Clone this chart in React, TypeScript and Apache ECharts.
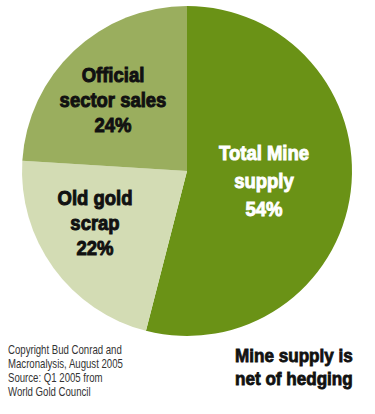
import React, { useEffect, useRef } from "react";
import * as echarts from "echarts";

const categories = ["Total Mine\nsupply", "Old gold\nscrap", "Official\nsector sales"];
const values = [54, 22, 24];
const colors = ["#6a9216", "#d3dcb4", "#9aae5e"];
const notes = ["Copyright Bud Conrad and", "Macronalysis, August 2005", "Source: Q1 2005 from", "World Gold Council"];
const caption = ["Mine supply is", "net of hedging"];

const FONT = '"Liberation Sans", Arial, sans-serif';

export default function App() {
  const ref = useRef<HTMLDivElement>(null);
  useEffect(() => {
    if (!ref.current) return;
    const chart = echarts.init(ref.current, null, { renderer: "svg" });
    const labelPos = [
      { x: 264, y: 181, fill: "#ffffff", lh: 28 },
      { x: 95, y: 223, fill: "#111111", lh: 25 },
      { x: 113, y: 100, fill: "#111111", lh: 25 },
    ];
    chart.setOption({
      animation: false,
      backgroundColor: "#ffffff",
      series: [
        {
          type: "pie",
          center: [187, 171],
          radius: 165,
          startAngle: 90,
          clockwise: true,
          label: { show: false },
          labelLine: { show: false },
          emphasis: { disabled: true },
          itemStyle: { borderWidth: 0 },
          data: categories.map((c, i) => ({ name: c, value: values[i], itemStyle: { color: colors[i] } })),
        },
      ],
      graphic: [
        ...categories.map((c, i) => ({
          type: "text",
          z: 100,
          x: labelPos[i].x,
          y: labelPos[i].y,
          scaleX: 0.88,
          style: {
            text: c + "\n" + values[i] + "%",
            fill: labelPos[i].fill,
            stroke: labelPos[i].fill,
            lineWidth: 1,
            font: "bold 21px " + FONT,
            align: "center",
            verticalAlign: "middle",
            lineHeight: labelPos[i].lh,
          },
        })),
        {
          type: "text",
          z: 100,
          x: 8,
          y: 371,
          scaleX: 0.77,
          style: {
            text: notes.join("\n"),
            fill: "#333333",
            font: "12.5px " + FONT,
            lineHeight: 14,
            align: "left",
            verticalAlign: "middle",
          },
        },
        {
          type: "text",
          z: 100,
          x: 235,
          y: 367.5,
          scaleX: 0.95,
          style: {
            text: caption.join("\n"),
            fill: "#111111",
            stroke: "#111111",
            lineWidth: 0.8,
            font: "bold 18px " + FONT,
            lineHeight: 23,
            align: "left",
            verticalAlign: "middle",
          },
        },
      ],
    });
    return () => chart.dispose();
  }, []);
  return <div ref={ref} style={{ width: 375, height: 414, position: "absolute", left: 0, top: 0 }} />;
}
